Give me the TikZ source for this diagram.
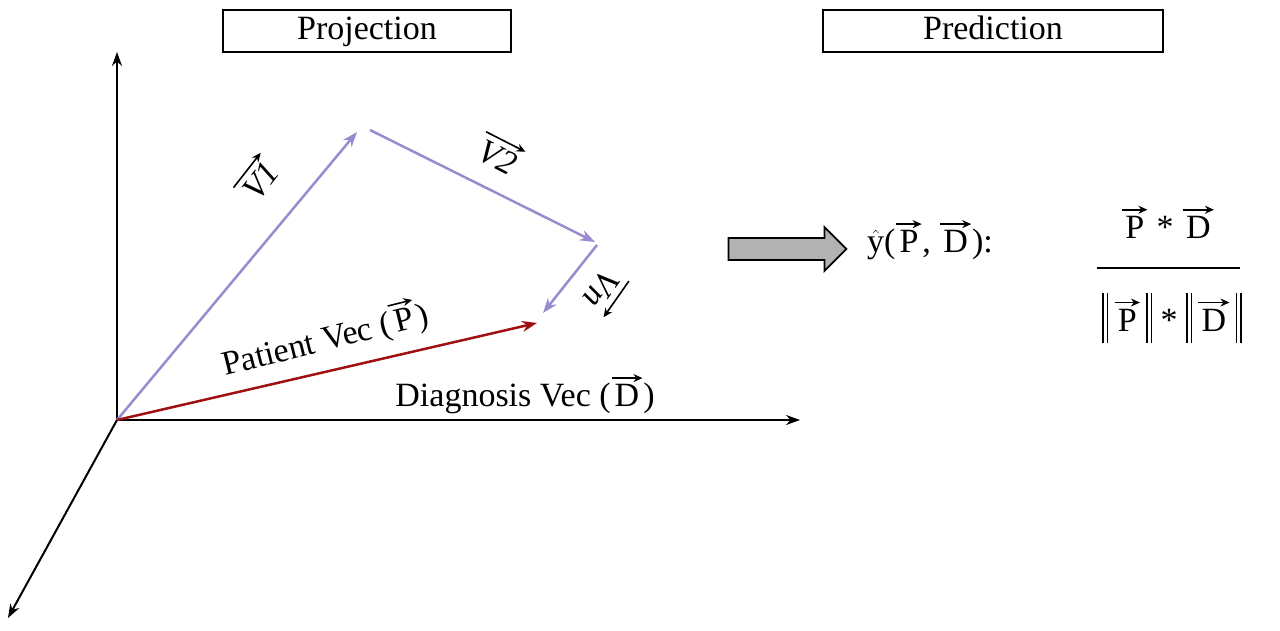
\documentclass[tikz,border=0pt]{standalone}
\usepackage{fontspec}
\setmainfont{Liberation Serif}
\usetikzlibrary{arrows.meta,shapes.arrows}
\newcommand{\vv}[1]{\tikz[baseline=(t.base),x=1pt,y=1pt]{\node[inner sep=0pt] (t) {#1};
 \draw[line width=1.6pt,-{Stealth[length=9pt,width=8pt]}] ([xshift=-3pt,yshift=6pt]t.north west) -- ([xshift=3pt,yshift=6pt]t.north east);}}
\newcommand{\nbar}{\rule[-12pt]{1.4pt}{50pt}\hspace{3pt}\rule[-12pt]{1.4pt}{50pt}}
\definecolor{pur}{HTML}{9A8AD0}
\definecolor{dred}{HTML}{A01010}
\begin{document}
\begin{tikzpicture}[x=1pt,y=-1pt,
 ax/.style={-{Stealth[length=14pt,width=10pt]},line width=2pt},
 pv/.style={pur,line width=2.5pt,-{Stealth[length=15pt,width=11pt]}},
 box/.style={draw,line width=1.8pt,minimum width=288pt,minimum height=42pt,text height=24pt,text depth=6pt,font=\fontsize{34}{38}\selectfont},
 lab/.style={font=\fontsize{34}{38}\selectfont}]
\useasboundingbox (0,0) rectangle (1280,631);
\node[box] (proj) at (367,31) {Projection};
\node[box,minimum width=340pt] (pred) at (993,31) {Prediction};
\coordinate (O) at (117,420);
\coordinate (Y) at (117,52);
\coordinate (X) at (800,420);
\coordinate (Z) at (8,618);
\draw[ax] (O)--(Y);
\draw[ax] (O)--(X);
\draw[ax] (O)--(Z);
\coordinate (A) at (357,132);
\coordinate (B) at (370,130);
\coordinate (C) at (595,242);
\coordinate (D) at (597,245);
\coordinate (E) at (543,313);
\coordinate (F) at (537,323);
\draw[pv] (O)--(A);
\draw[pv] (B)--(C);
\draw[pv] (D)--(E);
\draw[dred,line width=2.5pt,-{Stealth[length=15pt,width=11pt]}] (O)--(F);
\node[lab,rotate=52] (l1) at (257,178) {\vv{\textit{V1}}};
\node[lab,rotate=-27] (l2) at (500,153) {\vv{\textit{V2}}};
\node[lab,rotate=-125] (ln) at (606,292) {\vv{\textit{Vn}}};
\node[lab,rotate=14] (lp) at (325,338) {Patient Vec (\vv{P})};
\node[lab] (ld) at (525,394) {Diagnosis Vec (\vv{D})};
\node[single arrow,draw,fill=gray!60,line width=1.8pt,minimum height=118pt,minimum width=44pt,single arrow head extend=6pt,inner sep=5pt] (arr) at (782,249) {};
\node[lab] (yh) at (930,240) {$\hat{\mbox{y}}$(\vv{P}, \vv{D}):};
\node[lab] (num) at (1168,222) {\vv{P} * \vv{D}};
\draw[line width=2pt] (1097,268) -- (1240,268);
\node[lab] (den) at (1172,318) {\nbar\,\vv{P}\,\nbar\ * \nbar\,\vv{D}\,\nbar};
\end{tikzpicture}
\end{document}
